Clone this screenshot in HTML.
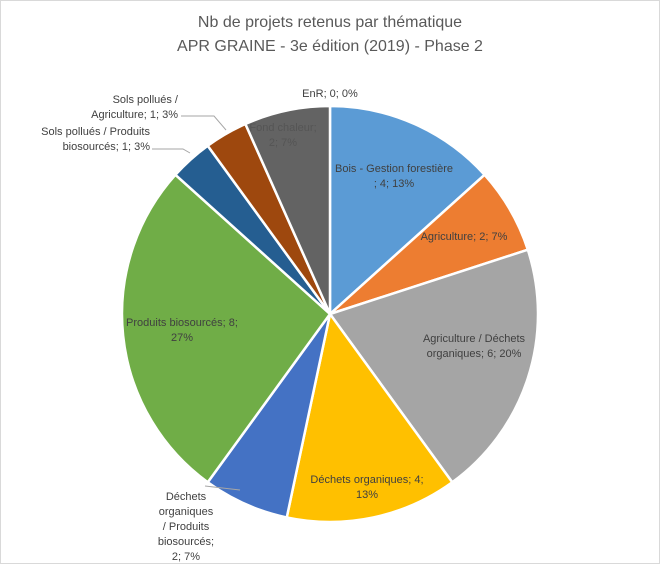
<!DOCTYPE html>
<html><head><meta charset="utf-8"><style>
body{margin:0;background:#fff;}
#c{position:relative;width:660px;height:566px;overflow:hidden;font-family:"Liberation Sans",sans-serif;}
svg{position:absolute;left:0;top:0;}
</style></head><body>
<div id="c">
<svg id="s" width="660" height="566">
<rect x="0.5" y="0.5" width="659" height="563" fill="#fff" stroke="#d9d9d9"/>
<text x="330" y="27" text-anchor="middle" font-size="16" fill="#595959">Nb de projets retenus par thématique</text>
<text x="330" y="51" text-anchor="middle" font-size="16" fill="#595959">APR GRAINE - 3e édition (2019) - Phase 2</text>
<g id="slices"></g><g id="leaders"></g><g id="labels"></g>
</svg>
</div>
<script>
const categories=["Bois - Gestion forestière","Agriculture","Agriculture / Déchets organiques","Déchets organiques","Déchets organiques / Produits biosourcés","Produits biosourcés","Sols pollués / Produits biosourcés","Sols pollués / Agriculture","Fond chaleur","EnR"];
const values=[4,2,6,4,2,8,1,1,2,0];
const colors=["#5B9BD5","#ED7D31","#A5A5A5","#FFC000","#4472C4","#70AD47","#255E91","#9E480E","#636363","#997300"];
const labelLines=[["Bois - Gestion forestière",";  4; 13%"],["Agriculture; 2; 7%"],["Agriculture / Déchets","organiques; 6; 20%"],["Déchets organiques; 4;","13%"],["Déchets","organiques","/ Produits","biosourcés;","2; 7%"],["Produits biosourcés; 8;","27%"],["Sols pollués / Produits","biosourcés; 1; 3%"],["Sols pollués /","Agriculture; 1; 3%"],["Fond chaleur;","2; 7%"],["EnR; 0; 0%"]];
const labelPos=[[394,172,"middle"],[464,240,"middle"],[474,342,"middle"],[367,483,"middle"],[186,500,"middle"],[182,326,"middle"],[150,135,"end"],[178,103,"end"],[283,131,"middle"],[330,97,"middle"]];
const cx=330,cy=314,r=208;
const NS="http://www.w3.org/2000/svg";
const total=values.reduce((a,b)=>a+b,0);
function ang(v){return v/total*2*Math.PI-Math.PI/2;}
function pt(a,rr){return [cx+rr*Math.cos(a),cy+rr*Math.sin(a)];}
let cum=0;
const gS=document.getElementById('slices'),gL=document.getElementById('labels'),gD=document.getElementById('leaders');
values.forEach((v,i)=>{
 const a0=ang(cum),a1=ang(cum+v);cum+=v;
 if(v>0){
  const p0=pt(a0,r),p1=pt(a1,r);
  const large=(a1-a0)>Math.PI?1:0;
  const p=document.createElementNS(NS,'path');
  p.setAttribute('d',`M${cx},${cy}L${p0[0]},${p0[1]}A${r},${r} 0 ${large} 1 ${p1[0]},${p1[1]}Z`);
  p.setAttribute('fill',colors[i]);p.setAttribute('stroke','#fff');p.setAttribute('stroke-width','2.5');
  
  
  gS.appendChild(p);
 }
 const t=document.createElementNS(NS,'text');
 const [lx,ly,anc]=labelPos[i];
 t.setAttribute('x',lx);t.setAttribute('y',ly);t.setAttribute('text-anchor',anc);
 t.setAttribute('font-size','11');t.setAttribute('fill',i==8?'#555':'#404040');
 
 
 labelLines[i].forEach((s,k)=>{const ts=document.createElementNS(NS,'tspan');ts.setAttribute('x',lx);ts.setAttribute('dy',k?15:0);ts.textContent=s;t.appendChild(ts);});
 gL.appendChild(t);
});
[["M152,149 L183,149 L190,153"],["M181,116 L214,116 L226,130"],["M205,486 L240,490"]].forEach((d,k)=>{
 const l=document.createElementNS(NS,'path');l.setAttribute('d',d[0]);l.setAttribute('stroke','#a6a6a6');l.setAttribute('fill','none');
 
 
 gD.appendChild(l);
});
</script>
</body></html>
